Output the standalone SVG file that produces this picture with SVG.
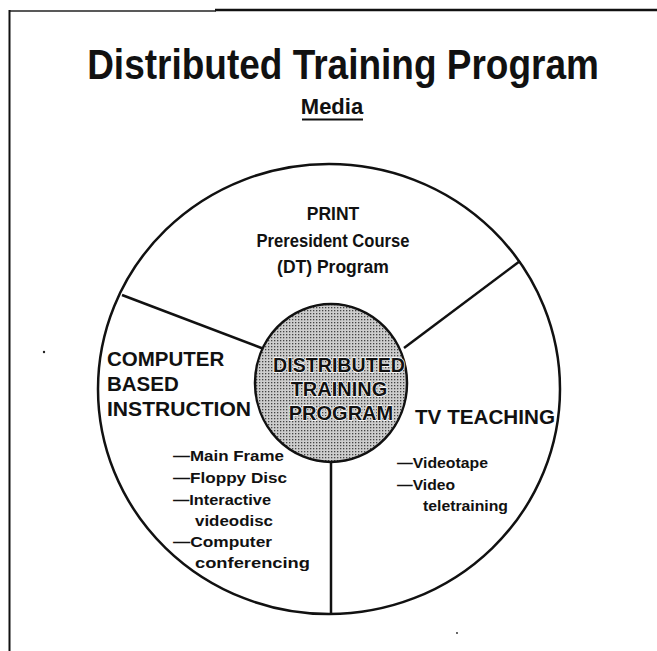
<svg xmlns="http://www.w3.org/2000/svg" width="657" height="651" viewBox="0 0 657 651">
  <style>
    text { font-family: "Liberation Sans", Arial, Helvetica, sans-serif; font-weight: bold; fill: #111; }
    .title { font-size: 37px; }
    .sub { font-size: 22px; }
    .seg { font-size: 17.5px; }
    .big { font-size: 20.5px; }
    .hub { font-size: 20px; stroke: #fff; stroke-width: 1.4px; paint-order: stroke; stroke-linejoin: round; }
    .item { font-size: 15px; }
    .line { stroke: #111; fill: none; stroke-width: 2.5; }
  </style>
  <defs>
    <pattern id="dots" width="3" height="3" patternUnits="userSpaceOnUse">
      <rect width="3" height="3" fill="#cdcdcd"/>
      <rect x="1" y="1" width="1.3" height="1.3" fill="#444"/>
    </pattern>
  </defs>
  <rect width="657" height="651" fill="#fff"/>

  <!-- page frame -->
  <g id="frame">
    <line x1="9" y1="11" x2="216" y2="11" stroke="#222" stroke-width="1.6"/>
    <line x1="215" y1="10" x2="657" y2="10" stroke="#111" stroke-width="2.6"/>
    <line x1="9.5" y1="10" x2="9.5" y2="651" stroke="#111" stroke-width="2"/>
  </g>

  <!-- headings -->
  <g id="heading">
    <text class="title" transform="translate(343 79) scale(1 1.15)" text-anchor="middle">Distributed Training Program</text>
    <text class="sub" x="332" y="114" text-anchor="middle">Media</text>
    <line x1="302" y1="119.5" x2="363" y2="119.5" stroke="#111" stroke-width="1.8"/>
  </g>

  <!-- outer wheel and dividers -->
  <g id="connectors">
    <ellipse class="line" cx="329" cy="389" rx="231" ry="225"/>
    <line class="line" x1="122" y1="295" x2="264" y2="349"/>
    <line class="line" x1="404" y1="348" x2="520" y2="261"/>
    <line class="line" x1="331" y1="461" x2="331" y2="614"/>
  </g>

  <!-- hub -->
  <g id="hub">
    <ellipse cx="331" cy="383" rx="76" ry="79" fill="url(#dots)" stroke="#111" stroke-width="2.5"/>
    <text class="hub" x="339" y="372" text-anchor="middle" textLength="132" lengthAdjust="spacingAndGlyphs">DISTRIBUTED</text>
    <text class="hub" x="339" y="396" text-anchor="middle">TRAINING</text>
    <text class="hub" x="341" y="420" text-anchor="middle">PROGRAM</text>
  </g>

  <!-- print segment -->
  <g id="print">
    <text class="seg" x="333" y="220" text-anchor="middle">PRINT</text>
    <text class="seg" x="333" y="247" text-anchor="middle" textLength="153" lengthAdjust="spacingAndGlyphs">Preresident Course</text>
    <text class="seg" x="333" y="273" text-anchor="middle">(DT) Program</text>
  </g>

  <!-- computer based instruction segment -->
  <g id="cbi">
    <text class="big" x="107" y="366">COMPUTER</text>
    <text class="big" x="107" y="391">BASED</text>
    <text class="big" x="107" y="416" textLength="144" lengthAdjust="spacingAndGlyphs">INSTRUCTION</text>
    <text class="item" x="173" y="461" textLength="111" lengthAdjust="spacingAndGlyphs">—Main Frame</text>
    <text class="item" x="173" y="483" textLength="114" lengthAdjust="spacingAndGlyphs">—Floppy Disc</text>
    <text class="item" x="173" y="505" textLength="98" lengthAdjust="spacingAndGlyphs">—Interactive</text>
    <text class="item" x="195" y="526" textLength="78" lengthAdjust="spacingAndGlyphs">videodisc</text>
    <text class="item" x="173" y="547" textLength="99" lengthAdjust="spacingAndGlyphs">—Computer</text>
    <text class="item" x="195" y="568" textLength="115" lengthAdjust="spacingAndGlyphs">conferencing</text>
  </g>

  <!-- tv teaching segment -->
  <g id="tv">
    <text class="big" x="415" y="424" textLength="140" lengthAdjust="spacingAndGlyphs">TV TEACHING</text>
    <text class="item" x="397" y="468" textLength="91" lengthAdjust="spacingAndGlyphs">—Videotape</text>
    <text class="item" x="397" y="490" textLength="58" lengthAdjust="spacingAndGlyphs">—Video</text>
    <text class="item" x="423" y="511" textLength="85" lengthAdjust="spacingAndGlyphs">teletraining</text>
  </g>

  <!-- stray specks -->
  <g id="specks" fill="#222">
    <circle cx="44" cy="352" r="1.2"/>
    <circle cx="457" cy="633" r="0.9"/>
  </g>
</svg>
